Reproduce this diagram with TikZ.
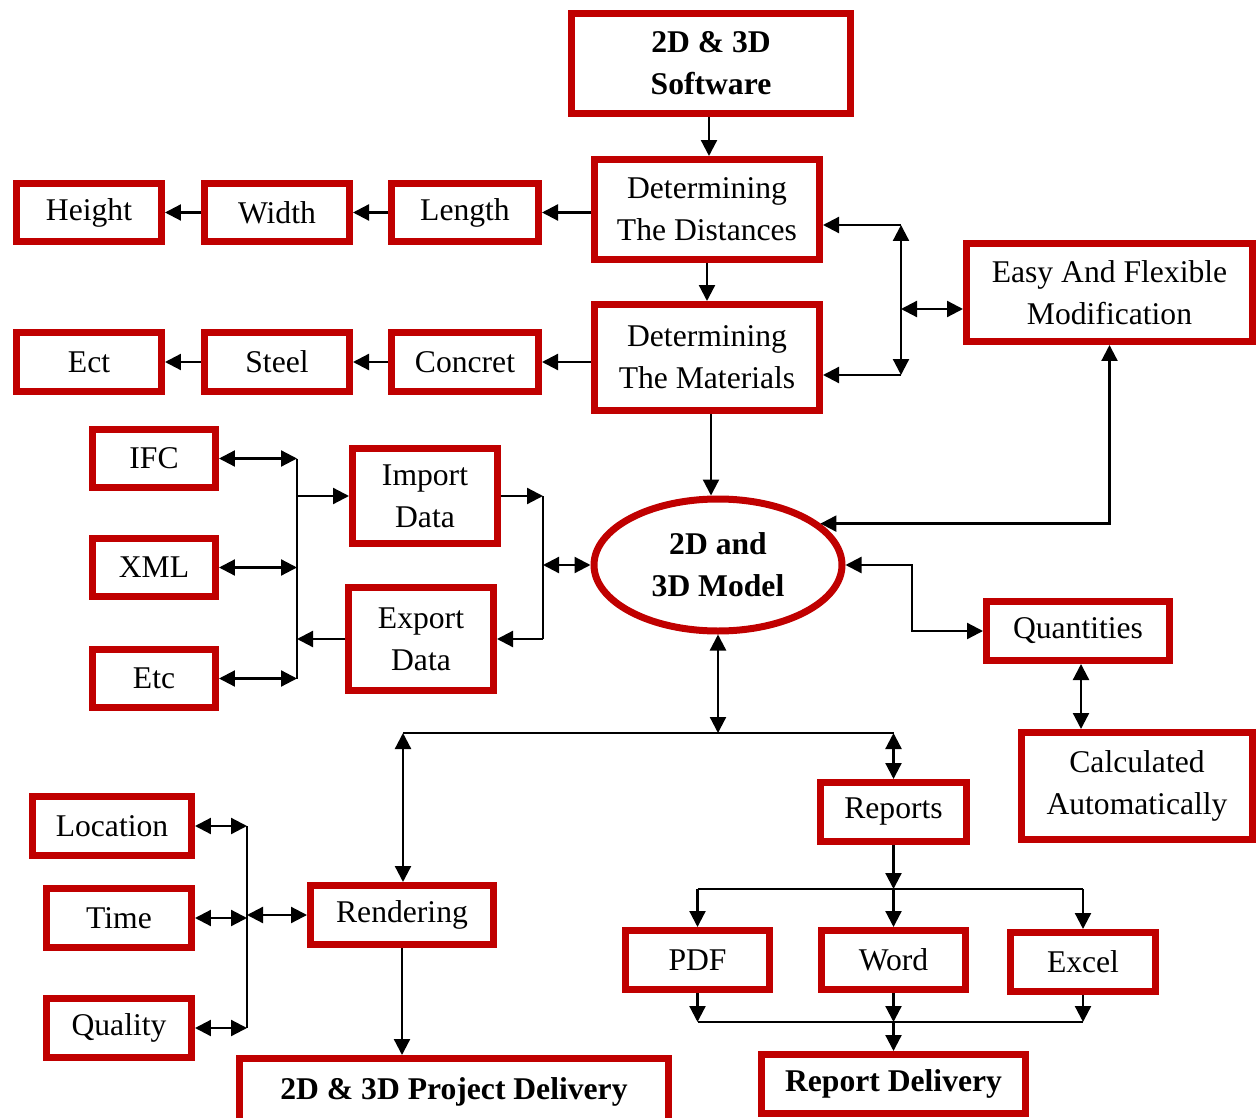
\documentclass[tikz,border=0pt]{standalone}
\usepackage{fontspec}
\setmainfont{Liberation Serif}
\usetikzlibrary{arrows.meta,shapes.geometric}
\definecolor{boxred}{HTML}{C00000}
\tikzset{
  box/.style={draw=boxred, line width=0.14cm, rectangle, inner sep=0pt, align=center, fill=white,
    font=\fontsize{18}{24}\selectfont},
  sz/.style n args={2}{minimum width=#1*0.02cm+0.06cm, minimum height=#2*0.02cm+0.06cm},
  conn/.style={line width=0.045cm, black},
  arr/.style={conn, -{Triangle[length=0.32cm,width=0.32cm]}},
  dbl/.style={conn, {Triangle[length=0.32cm,width=0.32cm]}-{Triangle[length=0.32cm,width=0.32cm]}},
}
\begin{document}
\begin{tikzpicture}[x=0.02cm,y=-0.02cm]
\useasboundingbox (0,0) rectangle (1257,1118);
\clip (0,0) rectangle (1257,1118);
% nodes
\node[box, sz={276}{97}] (soft) at (711,63.5) {\bfseries 2D \& 3D\\\bfseries Software};
\node[box, sz={222}{97}] (dist) at (707,209.5) {Determining\\The Distances};
\node[box, sz={222}{103}] (mat) at (707,357.5) {Determining\\The Materials};
\node[box, sz={142}{55}] (height) at (89,212.5) {Height};
\node[box, sz={142}{55}] (width) at (277,212.5) {Width};
\node[box, sz={144}{55}] (length) at (465,212.5) {Length};
\node[box, sz={142}{56}] (ect) at (89,362) {Ect};
\node[box, sz={142}{56}] (steel) at (277,362) {Steel};
\node[box, sz={144}{56}] (concret) at (465,362) {Concret};
\node[box, sz={283}{95}] (easy) at (1109.5,292.5) {Easy And Flexible\\Modification};
\node[box, sz={120}{55}] (ifc) at (154,458.5) {IFC};
\node[box, sz={120}{55}] (xml) at (154,567.5) {XML};
\node[box, sz={120}{55}] (etc) at (154,678.5) {Etc};
\node[box, sz={142}{92}] (import) at (425,496) {Import\\Data};
\node[box, sz={142}{100}] (export) at (421,639) {Export\\Data};
\node[box, ellipse, minimum width=248*0.02cm, minimum height=132*0.02cm] (model) at (718,565) {\bfseries 2D and\\\bfseries 3D Model};
\node[box, sz={180}{56}] (quant) at (1078,631) {Quantities};
\node[box, sz={228}{104}] (calc) at (1137,786) {Calculated\\Automatically};
\node[box, sz={143}{56}] (reports) at (893.5,812) {Reports};
\node[box, sz={156}{56}] (location) at (112,826) {Location};
\node[box, sz={142}{56}] (time) at (119,918) {Time};
\node[box, sz={142}{56}] (quality) at (119,1028) {Quality};
\node[box, sz={180}{56}] (rendering) at (402,915) {Rendering};
\node[box, sz={426}{64}] (project) at (454,1092) {\bfseries 2D \& 3D Project Delivery};
\node[box, sz={141}{56}] (pdf) at (697.5,960) {PDF};
\node[box, sz={141}{56}] (word) at (893.5,960) {Word};
\node[box, sz={142}{56}] (excel) at (1083,962) {Excel};
\node[box, sz={261}{56}] (repdel) at (893.5,1084) {\bfseries Report Delivery};
% top chain
\coordinate (s1) at (709,100);
\draw[arr] (s1 |- soft.south) -- (s1 |- dist.north);
\draw[arr] (dist.south) -- (mat.north);
\draw[arr] (dist.west |- length.east) -- (length.east);
\draw[arr] (length.west) -- (width.east);
\draw[arr] (width.west) -- (height.east);
\draw[arr] (mat.west |- concret.east) -- (concret.east);
\draw[arr] (concret.west) -- (steel.east);
\draw[arr] (steel.west) -- (ect.east);
% easy bracket
\coordinate (ebt) at (901,225);
\coordinate (ebb) at (901,375);
\coordinate (ebm) at (901,309);
\draw[dbl] (ebt) -- (ebb);
\draw[arr] (ebt) -- (ebt -| dist.east);
\draw[arr] (ebb) -- (ebb -| mat.east);
\draw[dbl] (ebm) -- (ebm -| easy.west);
% materials to model
\coordinate (mm) at (711,412);
\draw[arr] (mm |- mat.south) -- (mm |- model.north);
% easy to model
\draw[dbl] (model.22) -- (model.22 -| easy.south) -- (easy.south);
% model to quantities
\coordinate (qb) at (912,565);
\draw[dbl] (model.east) -- (qb) |- (quant.west);
\coordinate (q1) at (1081,700);
\draw[dbl] (q1 |- quant.south) -- (q1 |- calc.north);
% import/export
\coordinate (vL) at (297,567);
\draw[conn] (ifc.east -| vL) -- (etc.east -| vL);
\draw[dbl] (ifc.east) -- (ifc.east -| vL);
\draw[dbl] (xml.east) -- (xml.east -| vL);
\draw[dbl] (etc.east) -- (etc.east -| vL);
\draw[arr] (vL |- import.west) -- (import.west);
\draw[arr] (export.west) -- (export.west -| vL);
\coordinate (vR) at (543,565);
\draw[conn] (import.east -| vR) -- (export.east -| vR);
\draw[arr] (import.east) -- (import.east -| vR);
\draw[arr] (export.east -| vR) -- (export.east);
\draw[dbl] (vR) -- (model.west);
% bus below model
\coordinate (busm) at (718,733);
\coordinate (busl) at (403,733);
\coordinate (busr) at (893.5,733);
\draw[dbl] (model.south) -- (busm);
\draw[conn] (busl) -- (busr);
\draw[dbl] (busl) -- (busl |- rendering.north);
\draw[dbl] (busr) -- (busr |- reports.north);
% rendering group
\coordinate (vQ) at (247,917);
\draw[conn] (location.east -| vQ) -- (quality.east -| vQ);
\draw[dbl] (location.east) -- (location.east -| vQ);
\draw[dbl] (time.east) -- (time.east -| vQ);
\draw[dbl] (quality.east) -- (quality.east -| vQ);
\draw[dbl] (vQ |- rendering.west) -- (rendering.west);
\draw[arr] (rendering.south) -- (rendering.south |- project.north);
% reports
\coordinate (rb) at (893.5,889);
\draw[arr] (reports.south) -- (rb);
\draw[conn] (rb -| pdf.north) -- (rb -| excel.north);
\draw[arr] (rb -| pdf.north) -- (pdf.north);
\draw[arr] (rb) -- (word.north);
\draw[arr] (rb -| excel.north) -- (excel.north);
\coordinate (db) at (893.5,1022);
\draw[arr] (pdf.south) -- (pdf.south |- db);
\draw[arr] (word.south) -- (word.south |- db);
\draw[arr] (excel.south) -- (excel.south |- db);
\draw[conn] (db -| pdf.south) -- (db -| excel.south);
\draw[arr] (db) -- (db |- repdel.north);
\end{tikzpicture}
\end{document}
